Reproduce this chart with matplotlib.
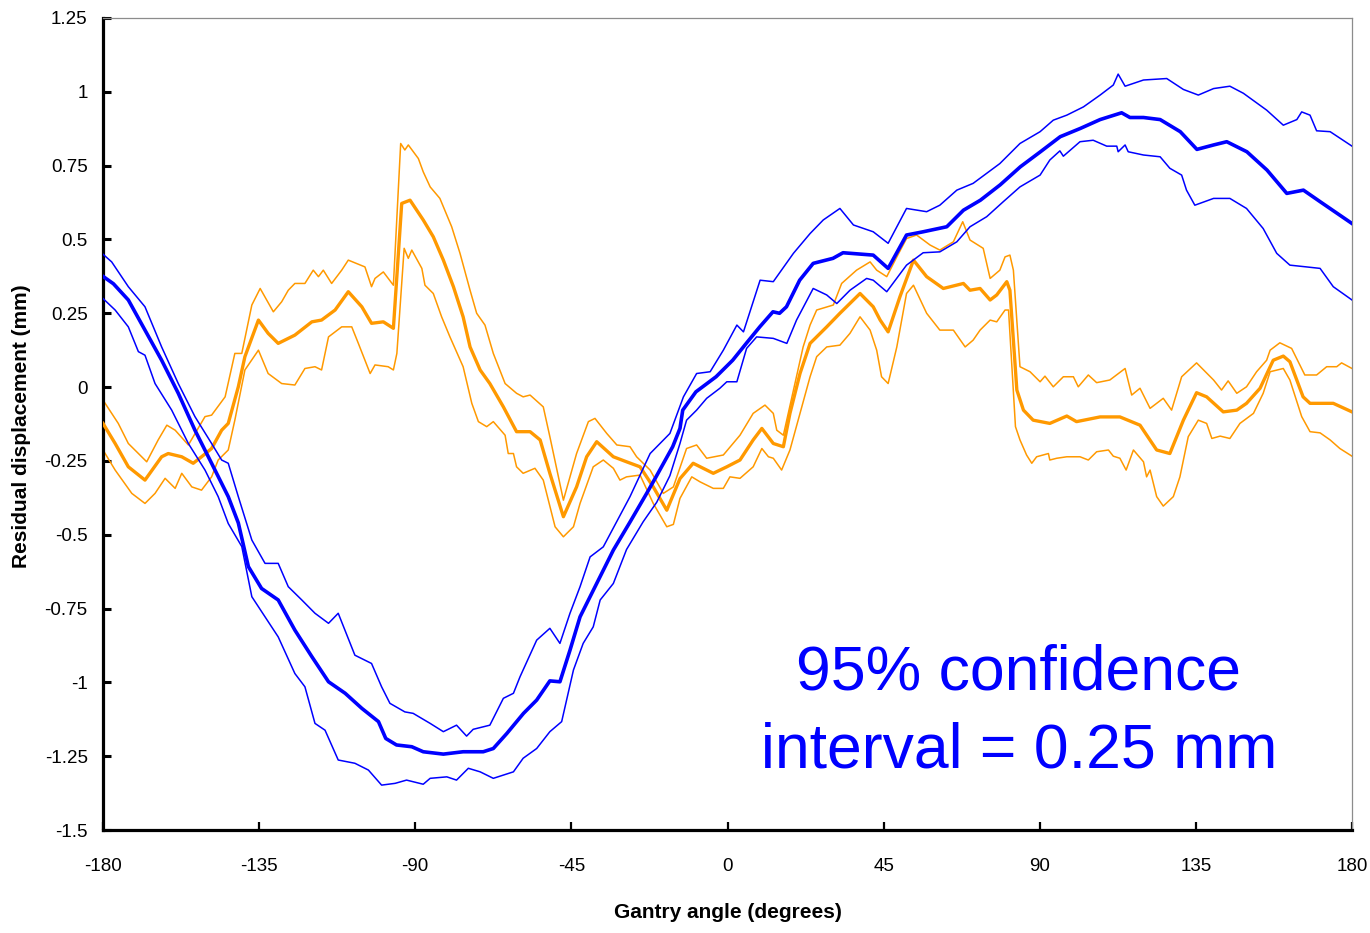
import matplotlib
matplotlib.use("Agg")
import matplotlib.pyplot as plt
from matplotlib import font_manager

# ---------------- data (gantry angle in degrees, residual displacement in mm) ----------------
blue_mean_deg = [-180, -177, -172.7, -167.9, -163.1, -158.3, -153.5, -148.7, -143.9, -141,
                 -138.1, -134.3, -129.5, -124.7, -119.8, -115, -110.2, -105.4, -100.6, -98.5,
                 -95.4, -91, -87.7, -81.9, -76.2, -70.4, -67.5, -63.6, -58.8, -55,
                 -51.2, -48.3, -45.4, -42.5, -37.7, -32.9, -28, -23.3, -20.6, -15.8,
                 -13.7, -12.9, -9.1, -3.3, 1.5, 5.4, 9.3, 13.1, 15, 17,
                 20.8, 24.7, 30.4, 33.3, 42, 46.3, 51.6, 56.4, 63.2, 68,
                 72.9, 78.6, 84.4, 90.2, 95.9, 101.7, 107.4, 113.6, 116, 119.9,
                 124.7, 130.5, 135.3, 140.1, 143.9, 149.7, 155.5, 161.2, 166, 170.8, 180]
blue_mean = [0.375, 0.35, 0.295, 0.193, 0.091, -0.021, -0.146, -0.258, -0.371, -0.46,
             -0.608, -0.682, -0.721, -0.823, -0.913, -0.998, -1.037, -1.088, -1.133, -1.19,
             -1.212, -1.218, -1.235, -1.243, -1.235, -1.235, -1.224, -1.173, -1.105, -1.06,
             -0.995, -0.998, -0.891, -0.778, -0.665, -0.552, -0.455, -0.36, -0.304, -0.202,
             -0.14, -0.078, -0.016, 0.035, 0.091, 0.148, 0.204, 0.255, 0.25, 0.272,
             0.362, 0.419, 0.436, 0.455, 0.447, 0.402, 0.515, 0.526, 0.543, 0.599,
             0.633, 0.685, 0.746, 0.797, 0.848, 0.876, 0.906, 0.929, 0.913, 0.913,
             0.906, 0.865, 0.805, 0.820, 0.831, 0.797, 0.735, 0.656, 0.667, 0.628, 0.554]

blue_hi_deg = [-180, -177.5, -172.7, -167.9, -163.1, -158.3, -153.5, -148.7, -145.8, -143.9,
               -141.0, -137.1, -133.3, -129.5, -126.6, -122.7, -118.9, -115.0, -112.2, -107.4,
               -102.6, -99.7, -97.3, -93.0, -90.6, -85.7, -81.9, -78.1, -75.2, -73.3,
               -68.5, -64.6, -61.7, -59.8, -55.0, -51.2, -48.3, -45.4, -42.5, -39.6,
               -35.8, -28.1, -22.3, -16.6, -12.7, -8.9, -5.0, -1.2, 2.7, 4.6,
               9.4, 13.2, 19.0, 23.8, 27.6, 32.4, 36.3, 42.0, 46.3, 51.6,
               57.4, 61.2, 66.1, 70.8, 78.5, 84.3, 90.1, 93.9, 97.8, 102.6,
               107.4, 111.2, 112.6, 114.6, 119.9, 126.6, 131.4, 135.7, 140.1, 144.8,
               148.7, 155.4, 160.2, 164.1, 165.5, 167.9, 169.8, 173.7, 180]
blue_hi = [0.45, 0.424, 0.34, 0.272, 0.136, 0.012, -0.1, -0.191, -0.247, -0.258,
           -0.371, -0.518, -0.597, -0.597, -0.676, -0.721, -0.766, -0.8, -0.766, -0.908,
           -0.936, -1.015, -1.071, -1.1, -1.105, -1.139, -1.167, -1.145, -1.182, -1.159,
           -1.145, -1.054, -1.037, -0.981, -0.857, -0.817, -0.868, -0.766, -0.676, -0.575,
           -0.541, -0.371, -0.225, -0.157, -0.033, 0.046, 0.052, 0.125, 0.21, 0.187,
           0.362, 0.357, 0.453, 0.52, 0.566, 0.605, 0.549, 0.526, 0.487, 0.605,
           0.594, 0.616, 0.667, 0.69, 0.757, 0.825, 0.865, 0.904, 0.921, 0.949,
           0.989, 1.023, 1.06, 1.019, 1.04, 1.045, 1.008, 0.989, 1.011, 1.019,
           0.995, 0.938, 0.887, 0.906, 0.932, 0.921, 0.868, 0.865, 0.816]

blue_lo_deg = [-180, -176.5, -172.7, -169.8, -167.9, -165.0, -160.2, -155.4, -150.6, -146.8,
               -143.9, -140.0, -137.1, -133.3, -129.5, -124.7, -121.8, -118.9, -116.0, -112.2,
               -107.4, -103.5, -99.7, -95.8, -92.5, -87.7, -85.7, -80.9, -78.1, -74.7,
               -71.3, -67.5, -61.7, -58.9, -55.0, -51.2, -47.8, -44.4, -41.6, -38.7,
               -36.7, -32.9, -29.1, -24.3, -20.4, -16.6, -13.7, -11.8, -8.9, -6.0,
               -2.2, -0.2, 2.7, 5.5, 8.4, 13.2, 17.1, 19.9, 24.7, 28.6,
               31.5, 35.3, 40.1, 42.0, 45.9, 51.6, 56.4, 61.2, 66.1, 69.9,
               74.7, 79.5, 84.3, 90.1, 92.9, 95.8, 96.8, 101.6, 105.4, 109.3,
               112.2, 112.6, 114.6, 115.5, 119.9, 124.7, 127.5, 130.9, 132.3, 134.7,
               140.1, 144.8, 149.6, 154.4, 158.3, 162.1, 166.9, 170.8, 174.6, 180]
blue_lo = [0.3, 0.261, 0.204, 0.12, 0.108, 0.012, -0.078, -0.191, -0.281, -0.371,
           -0.462, -0.54, -0.71, -0.778, -0.846, -0.97, -1.015, -1.139, -1.162, -1.263,
           -1.274, -1.297, -1.348, -1.342, -1.331, -1.345, -1.325, -1.32, -1.331, -1.291,
           -1.303, -1.325, -1.303, -1.257, -1.224, -1.167, -1.133, -0.958, -0.868, -0.812,
           -0.721, -0.665, -0.55, -0.456, -0.39, -0.3, -0.191, -0.112, -0.078, -0.038,
           -0.004, 0.018, 0.018, 0.131, 0.17, 0.165, 0.148, 0.227, 0.334, 0.312,
           0.283, 0.328, 0.368, 0.362, 0.323, 0.413, 0.455, 0.458, 0.492, 0.543,
           0.577, 0.628, 0.678, 0.718, 0.769, 0.8, 0.782, 0.831, 0.836, 0.816,
           0.816, 0.797, 0.82, 0.797, 0.786, 0.78, 0.741, 0.718, 0.667, 0.616,
           0.639, 0.639, 0.605, 0.537, 0.453, 0.413, 0.407, 0.402, 0.34, 0.295]

orange_mean_deg = [-180, -176.5, -172.7, -167.9, -163.1, -161.2, -157.3, -154.0, -151.6, -148.7,
                   -145.8, -143.9, -141.0, -139.1, -135.2, -132.4, -129.5, -124.7, -119.8, -117.0,
                   -113.1, -109.3, -105.4, -102.6, -99.2, -96.3, -93.9, -91.5, -87.7, -84.8,
                   -81.9, -79.0, -76.2, -74.2, -71.3, -68.5, -64.6, -60.8, -56.9, -54.0,
                   -51.2, -47.3, -43.5, -40.6, -37.7, -32.9, -29.1, -25.2, -21.4, -17.5,
                   -13.7, -9.9, -4.1, -0.2, 3.6, 7.4, 9.9, 13.2, 16.1, 18.0,
                   20.9, 23.8, 28.6, 32.4, 38.2, 42.0, 44.0, 46.3, 49.7, 53.6,
                   57.4, 62.2, 68.0, 69.9, 72.8, 75.7, 77.6, 80.5, 81.4, 83.4,
                   85.3, 88.1, 92.9, 97.8, 100.6, 107.4, 113.1, 118.9, 123.7, 127.5,
                   131.4, 135.2, 138.1, 142.9, 146.8, 149.6, 153.5, 157.3, 160.2, 162.1,
                   165.9, 167.9, 174.6, 180]
orange_mean = [-0.123, -0.191, -0.27, -0.315, -0.236, -0.225, -0.236, -0.258, -0.236, -0.208,
               -0.146, -0.123, 0.001, 0.103, 0.227, 0.182, 0.148, 0.176, 0.221, 0.227,
               0.261, 0.323, 0.272, 0.216, 0.221, 0.199, 0.622, 0.633, 0.566, 0.509,
               0.43, 0.34, 0.238, 0.136, 0.058, 0.012, -0.067, -0.151, -0.151, -0.179,
               -0.292, -0.439, -0.338, -0.236, -0.185, -0.236, -0.253, -0.27, -0.338, -0.417,
               -0.31, -0.258, -0.292, -0.27, -0.247, -0.179, -0.14, -0.191, -0.202, -0.089,
               0.046, 0.148, 0.204, 0.25, 0.317, 0.272, 0.227, 0.187, 0.306, 0.43,
               0.374, 0.334, 0.351, 0.328, 0.334, 0.295, 0.312, 0.357, 0.328, -0.01,
               -0.078, -0.112, -0.123, -0.098, -0.117, -0.101, -0.101, -0.129, -0.213, -0.225,
               -0.112, -0.019, -0.033, -0.084, -0.078, -0.055, -0.004, 0.091, 0.105, 0.086,
               -0.033, -0.055, -0.055, -0.084]

orange_hi_deg = [-180, -175.6, -172.7, -167.4, -164.1, -161.6, -159.2, -155.4, -150.6, -148.7,
                 -144.8, -142.0, -140.0, -137.1, -134.7, -130.9, -128.5, -126.6, -124.7, -121.8,
                 -119.4, -117.9, -116.5, -114.1, -111.2, -109.3, -104.5, -102.6, -101.6, -99.2,
                 -96.3, -94.2, -93.0, -92.0, -89.1, -87.7, -85.7, -82.9, -79.5, -77.1,
                 -74.2, -72.3, -69.9, -67.5, -64.1, -60.8, -58.9, -56.9, -53.1, -51.2,
                 -47.3, -43.5, -40.1, -38.2, -34.8, -31.9, -28.1, -26.2, -22.3, -18.5,
                 -15.6, -11.8, -8.9, -6.0, -1.2, 3.6, 7.4, 10.8, 13.2, 14.2,
                 16.1, 19.0, 21.8, 23.8, 25.7, 30.5, 32.9, 37.2, 41.1, 43.0,
                 45.9, 48.8, 51.6, 54.5, 58.4, 61.2, 65.1, 67.8, 69.9, 73.7,
                 75.7, 78.5, 80.0, 81.4, 82.4, 84.3, 87.2, 90.1, 91.5, 93.9,
                 96.8, 99.7, 101.1, 104.0, 106.4, 110.2, 114.6, 116.5, 118.9, 121.8,
                 125.6, 128.0, 130.9, 135.2, 140.1, 142.4, 144.3, 146.8, 149.6, 152.5,
                 155.4, 156.4, 159.2, 162.6, 166.4, 169.8, 172.7, 175.6, 177.0, 180]
orange_hi = [-0.044, -0.123, -0.191, -0.253, -0.179, -0.129, -0.146, -0.196, -0.1, -0.095,
             -0.033, 0.114, 0.114, 0.278, 0.334, 0.255, 0.289, 0.328, 0.351, 0.351,
             0.396, 0.374, 0.396, 0.351, 0.396, 0.43, 0.407, 0.34, 0.368, 0.39,
             0.345, 0.825, 0.803, 0.82, 0.774, 0.729, 0.678, 0.639, 0.543, 0.453,
             0.328, 0.25, 0.21, 0.114, 0.012, -0.021, -0.033, -0.027, -0.067, -0.168,
             -0.383, -0.225, -0.117, -0.106, -0.157, -0.196, -0.202, -0.236, -0.281, -0.36,
             -0.338, -0.208, -0.196, -0.241, -0.23, -0.163, -0.089, -0.061, -0.089, -0.146,
             -0.163, -0.01, 0.136, 0.21, 0.261, 0.278, 0.351, 0.396, 0.424, 0.396,
             0.374, 0.441, 0.503, 0.515, 0.481, 0.464, 0.492, 0.56, 0.498, 0.47,
             0.368, 0.396, 0.441, 0.447, 0.396, 0.069, 0.052, 0.018, 0.037, 0.001,
             0.035, 0.035, 0.001, 0.041, 0.015, 0.024, 0.063, -0.027, -0.004, -0.072,
             -0.038, -0.078, 0.035, 0.082, 0.024, -0.01, 0.021, -0.021, 0.001, 0.052,
             0.091, 0.125, 0.15, 0.131, 0.041, 0.041, 0.069, 0.069, 0.082, 0.063]

orange_lo_deg = [-180, -176.5, -171.7, -167.9, -165.0, -162.1, -159.2, -157.3, -154.4, -151.6,
                 -148.7, -146.8, -143.9, -142.0, -139.1, -135.2, -132.4, -128.5, -124.7, -121.8,
                 -118.9, -117.0, -115.0, -111.2, -108.3, -106.4, -103.0, -101.6, -97.8, -96.3,
                 -95.3, -93.2, -92.0, -91.0, -88.1, -87.2, -84.8, -82.4, -80.0, -76.2,
                 -73.7, -71.8, -69.4, -67.5, -64.1, -63.2, -61.7, -60.8, -58.9, -55.5,
                 -53.1, -49.7, -47.3, -44.4, -42.5, -38.7, -35.8, -32.9, -31.0, -29.1,
                 -25.2, -21.4, -17.5, -15.6, -13.7, -10.3, -7.9, -4.1, -1.2, 0.7,
                 3.6, 7.4, 9.9, 11.8, 13.2, 15.6, 18.0, 20.9, 23.8, 25.7,
                 28.6, 32.4, 35.3, 38.2, 41.1, 43.0, 44.4, 46.3, 48.8, 51.6,
                 53.6, 57.4, 61.2, 65.1, 68.5, 70.8, 72.8, 75.7, 77.6, 80.0,
                 81.0, 83.0, 84.3, 86.2, 87.7, 89.1, 92.5, 92.9, 94.9, 97.8,
                 101.6, 104.0, 106.4, 109.8, 111.2, 113.1, 114.9, 117.0, 119.9, 120.8,
                 121.8, 123.7, 125.6, 128.5, 130.4, 132.8, 135.7, 138.1, 139.6, 142.0,
                 144.8, 147.7, 151.6, 154.4, 156.4, 160.2, 162.1, 165.5, 167.9, 170.8,
                 173.7, 176.5, 180]
orange_lo = [-0.213, -0.281, -0.36, -0.394, -0.36, -0.309, -0.343, -0.292, -0.338, -0.349,
             -0.304, -0.247, -0.213, -0.112, 0.058, 0.125, 0.046, 0.012, 0.007, 0.063,
             0.069, 0.058, 0.17, 0.204, 0.204, 0.148, 0.046, 0.075, 0.069, 0.058,
             0.114, 0.47, 0.436, 0.464, 0.402, 0.345, 0.317, 0.238, 0.17, 0.069,
             -0.055, -0.117, -0.134, -0.117, -0.163, -0.225, -0.225, -0.27, -0.292, -0.275,
             -0.315, -0.473, -0.507, -0.473, -0.394, -0.27, -0.247, -0.275, -0.315, -0.304,
             -0.298, -0.394, -0.473, -0.465, -0.377, -0.304, -0.321, -0.343, -0.343, -0.304,
             -0.309, -0.27, -0.208, -0.236, -0.241, -0.281, -0.213, -0.089, 0.035, 0.103,
             0.136, 0.142, 0.182, 0.238, 0.193, 0.125, 0.035, 0.012, 0.136, 0.317,
             0.345, 0.25, 0.193, 0.193, 0.136, 0.159, 0.193, 0.227, 0.221, 0.261,
             0.261, -0.134, -0.179, -0.23, -0.258, -0.236, -0.225, -0.247, -0.241, -0.236,
             -0.236, -0.247, -0.219, -0.213, -0.234, -0.241, -0.281, -0.213, -0.253, -0.304,
             -0.281, -0.371, -0.403, -0.371, -0.304, -0.168, -0.112, -0.123, -0.174, -0.166,
             -0.174, -0.123, -0.089, -0.021, 0.052, 0.063, 0.024, -0.1, -0.151, -0.155,
             -0.179, -0.208, -0.234]

x_ticks = [-180, -135, -90, -45, 0, 45, 90, 135, 180]
y_ticks = [-1.5, -1.25, -1, -0.75, -0.5, -0.25, 0, 0.25, 0.5, 0.75, 1, 1.25]
y_tick_labels = ["-1.5", "-1.25", "-1", "-0.75", "-0.5", "-0.25", "0", "0.25", "0.5", "0.75", "1", "1.25"]

# ---------------- fonts ----------------
def font_available(name):
    try:
        font_manager.findfont(font_manager.FontProperties(family=name), fallback_to_default=False)
        return True
    except Exception:
        return False

if font_available("Liberation Sans Narrow"):
    tick_font, tick_size = "Liberation Sans Narrow", 16.5
    xlab_font, xlab_size = "Liberation Sans Narrow", 18
else:
    tick_font, tick_size = "Liberation Sans", 13.5
    xlab_font, xlab_size = "Liberation Sans", 15

BLUE = "#0000FF"
ORANGE = "#FF9900"

fig = plt.figure(figsize=(13.7, 9.33), dpi=100)
ax = fig.add_axes([103 / 1370, 1 - 830 / 933, (1352 - 103) / 1370, (830 - 18) / 933])

# orange series
ax.plot(orange_hi_deg, orange_hi, color=ORANGE, lw=1.1, zorder=2)
ax.plot(orange_lo_deg, orange_lo, color=ORANGE, lw=1.1, zorder=2)
ax.plot(orange_mean_deg, orange_mean, color=ORANGE, lw=2.4, zorder=3)
# blue series
ax.plot(blue_hi_deg, blue_hi, color=BLUE, lw=1.1, zorder=4)
ax.plot(blue_lo_deg, blue_lo, color=BLUE, lw=1.1, zorder=4)
ax.plot(blue_mean_deg, blue_mean, color=BLUE, lw=2.6, zorder=5)

ax.set_xlim(-180, 180)
ax.set_ylim(-1.5, 1.25)
ax.set_xticks(x_ticks)
ax.set_xticklabels([str(t) for t in x_ticks])
ax.set_yticks(y_ticks)
ax.set_yticklabels(y_tick_labels)

for side in ("left", "bottom"):
    ax.spines[side].set_linewidth(2.3)
    ax.spines[side].set_color("black")
for side in ("top", "right"):
    ax.spines[side].set_linewidth(0.9)
    ax.spines[side].set_color("#8c8c8c")

ax.tick_params(axis="y", direction="in", length=6, width=2.2, pad=11, left=True, right=False)
ax.tick_params(axis="x", direction="in", length=6, width=1.6, pad=20, bottom=True, top=False)
for lab in ax.get_xticklabels() + ax.get_yticklabels():
    lab.set_fontfamily(tick_font)
    lab.set_fontsize(tick_size)
    lab.set_color("black")

fig.text(727.5 / 1370, 1 - 913 / 933, "Gantry angle (degrees)", ha="center", va="center",
         family=xlab_font, fontsize=xlab_size, fontweight="bold")
fig.text(22 / 1370, 1 - 426.5 / 933, "Residual displacement (mm)", ha="center", va="center",
         rotation=90, family="Liberation Sans", fontsize=15, fontweight="bold")

fig.text(1019 / 1370, 1 - 690 / 933, "95% confidence", ha="center", va="baseline",
         family="Liberation Sans", fontsize=45, color=BLUE)
fig.text(1019 / 1370, 1 - 767 / 933, "interval = 0.25 mm", ha="center", va="baseline",
         family="Liberation Sans", fontsize=45, color=BLUE)

fig.savefig("out.png", dpi=100, facecolor="white")
